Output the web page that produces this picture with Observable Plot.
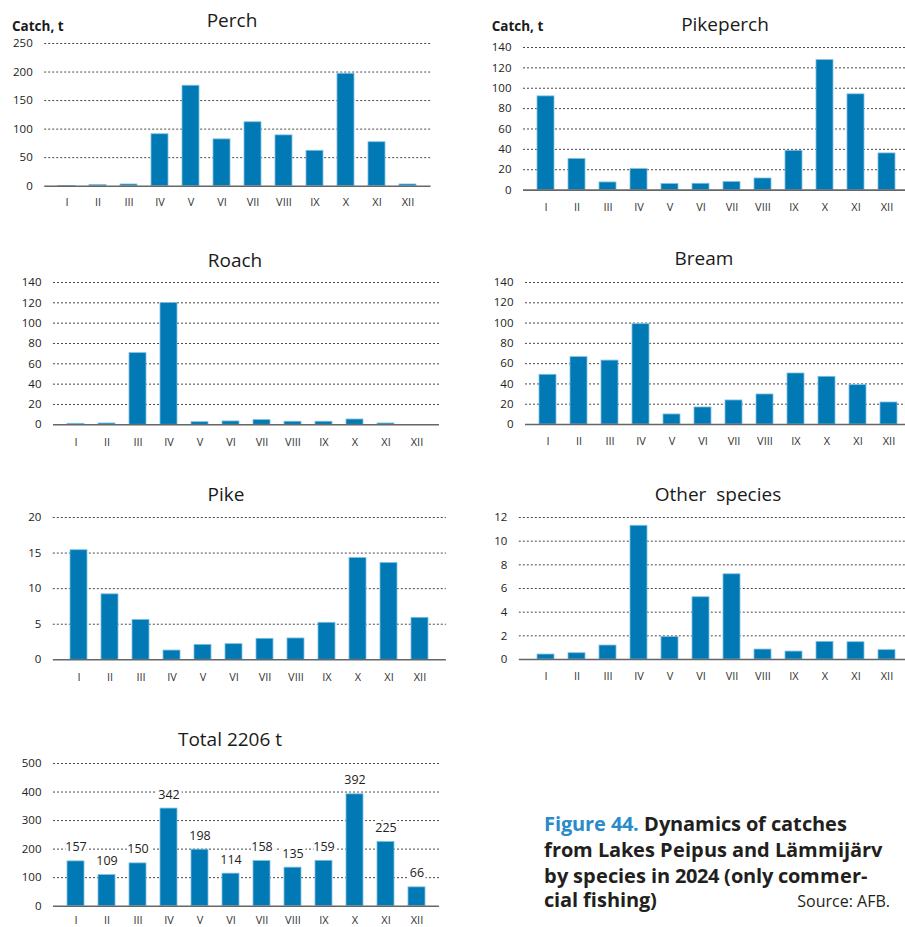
<!DOCTYPE html>
<html>
<head>
<meta charset="utf-8">
<script src="https://cdn.jsdelivr.net/npm/d3@7"></script>
<script src="https://cdn.jsdelivr.net/npm/@observablehq/plot@0.6"></script>
<style>
  @font-face {
    font-family: "CapFont";
    src: local("Open Sans Bold"), local("OpenSans-Bold"), local("Open Sans");
    font-weight: 700;
    ascent-override: 85%;
    descent-override: 22%;
    line-gap-override: 0%;
  }
  html, body { margin: 0; padding: 0; background: #fff; }
  body { width: 905px; height: 927px; position: relative; overflow: hidden; font-family: "Open Sans", sans-serif; color: #222; }
  .abs { position: absolute; white-space: pre; }
  .title { font-size: 19px; line-height: 19px; width: 240px; text-align: center; color: #1a1a1a; }
  .catch { font-size: 13.5px; line-height: 13.5px; font-weight: 700; color: #1a1a1a; }
  .cap { font-family: "CapFont", "Open Sans", sans-serif; font-size: 20px; line-height: 22px; font-weight: 700; color: #231f20; }
  .src { font-size: 16px; line-height: 20px; color: #231f20; }
  svg { position: absolute; overflow: visible; }
</style>
</head>
<body>
<script>
// ---- data ----
const months = ["I","II","III","IV","V","VI","VII","VIII","IX","X","XI","XII"];
const perch     = [0.5, 2, 3, 91, 176, 82, 112, 89, 62, 197, 77, 3];
const pikeperch = [92, 30.5, 7.5, 20.6, 5.9, 6.2, 7.9, 11.4, 38.6, 127.6, 94, 36];
const roach     = [1, 1.3, 70.5, 119.7, 2.6, 3.3, 4.6, 3, 3, 5.2, 1.3, 0];
const bream     = [49, 66.4, 63, 98.9, 9.9, 16.8, 23.7, 29.6, 50.3, 47, 38.8, 21.7];
const pike      = [15.4, 9.2, 5.6, 1.3, 2.1, 2.2, 2.95, 3.0, 5.2, 14.3, 13.6, 5.9];
const other     = [0.42, 0.53, 1.18, 11.3, 1.9, 5.26, 7.2, 0.84, 0.67, 1.49, 1.46, 0.79];
const total     = [157, 109, 150, 342, 198, 114, 158, 135, 159, 392, 225, 66];

const titles = ["Perch", "Pikeperch", "Roach", "Bream", "Pike", "Other  species", "Total 2206 t"];
const yLabel = "Catch, t";
const figLabel = "Figure 44.";
const capLines = [" Dynamics of catches", "from Lakes Peipus and Lämmijärv", "by species in 2024 (only commer-", "cial fishing)"];
const source = "Source: AFB.";

// ---- layout ----
const BAR = "#0079b4", EDGE = "#7fc0e3";
const panels = [
  {title: titles[0], values: perch,     max: 250, step: 50, col: 0, x0: 44.2, x1: 430.6, yTop: 43.3,  yBase: 186,   tx: 232, ty: 21.2, catchAt: [12, 27], pad: 12},
  {title: titles[1], values: pikeperch, max: 140, step: 20, col: 1, x0: 523,  x1: 909,   yTop: 46.7,  yBase: 189.3, tx: 725, ty: 24.7, catchAt: [491.7, 27], pad: 13},
  {title: titles[2], values: roach,     max: 140, step: 20, col: 0, x0: 53,   x1: 439,   yTop: 281.7, yBase: 424,   tx: 235, ty: 261.2, pad: 13},
  {title: titles[3], values: bream,     max: 140, step: 20, col: 1, x0: 525,  x1: 911,   yTop: 282,   yBase: 424,   tx: 704, ty: 259.2, pad: 13},
  {title: titles[4], values: pike,      max: 20,  step: 5,  col: 0, x0: 52.8, x1: 445.9, yTop: 517,   yBase: 659.3, tx: 226, ty: 494.5, pad: 13},
  {title: titles[5], values: other,     max: 12,  step: 2,  col: 1, x0: 518.8,x1: 914,   yTop: 517.3, yBase: 659.3, tx: 718, ty: 494.8, pad: 13},
  {title: titles[6], values: total,     max: 500, step: 100,col: 0, x0: 53,   x1: 439,   yTop: 763.3, yBase: 906,   tx: 230, ty: 740.3, labels: true, pad: 10}
];

function addDiv(cls, text, left, top, extra) {
  const d = document.createElement("div");
  d.className = "abs " + cls;
  d.textContent = text;
  d.style.left = left + "px";
  d.style.top = top + "px";
  if (extra) Object.assign(d.style, extra);
  document.body.appendChild(d);
  return d;
}

for (const p of panels) {
  const left = p.col === 0 ? 0 : 450;
  const width = p.col === 0 ? 460 : 470;
  const top = p.yTop - 30;
  const height = (p.yBase + 32) - top;
  const data = months.map((m, i) => ({month: m, value: p.values[i]}));
  const ticks = d3.range(0, p.max + p.step / 2, p.step);
  const marks = [
    Plot.ruleY(ticks.filter(t => t > 0), {stroke: "#333", strokeDasharray: "2,2", strokeWidth: 0.9}),
    Plot.barY(data, {x: "month", y: "value", fill: BAR, stroke: EDGE, strokeWidth: 0.8}),
    Plot.ruleY([0], {stroke: "#666", strokeWidth: 1.6}),
    Plot.axisX({tickSize: 0, tickPadding: p.pad, fontSize: 11, fill: "#333"}),
    Plot.axisY(ticks, {tickSize: 0, tickPadding: 12, fontSize: 11.5, fill: "#222"})
  ];
  if (p.labels) {
    marks.push(Plot.text(data, {x: "month", y: "value", text: d => String(d.value), dy: -14,
      fontSize: 12.5, fill: "#222", stroke: "white", strokeWidth: 6}));
  }
  const svg = Plot.plot({
    width, height,
    marginLeft: p.x0 - left,
    marginRight: left + width - p.x1,
    marginTop: p.yTop - top,
    marginBottom: top + height - p.yBase,
    x: {domain: months, padding: 0.44, label: null},
    y: {domain: [0, p.max], label: null},
    style: {fontFamily: "'Open Sans', sans-serif", fontSize: "11.5px", color: "#222", background: "transparent", overflow: "visible"},
    marks
  });
  svg.style.left = left + "px";
  svg.style.top = top + "px";
  document.body.appendChild(svg);
  addDiv("title", p.title, p.tx - 120, p.ty - 10);
  if (p.catchAt) addDiv("catch", yLabel, p.catchAt[0], p.catchAt[1] - 7.2);
}

// ---- caption ----
const capTops = [813.7, 839.7, 865.7, 889.7];
capLines.forEach((txt, i) => {
  const d = addDiv("cap", "", 544, capTops[i]);
  if (i === 0) {
    const s = document.createElement("span");
    s.textContent = figLabel;
    s.style.color = "#2a8bcb";
    d.appendChild(s);
  }
  d.appendChild(document.createTextNode(txt));
});

const src = addDiv("src", source, 0, 891);
src.style.left = "auto";
src.style.right = (905 - 890) + "px";
</script>
</body>
</html>
